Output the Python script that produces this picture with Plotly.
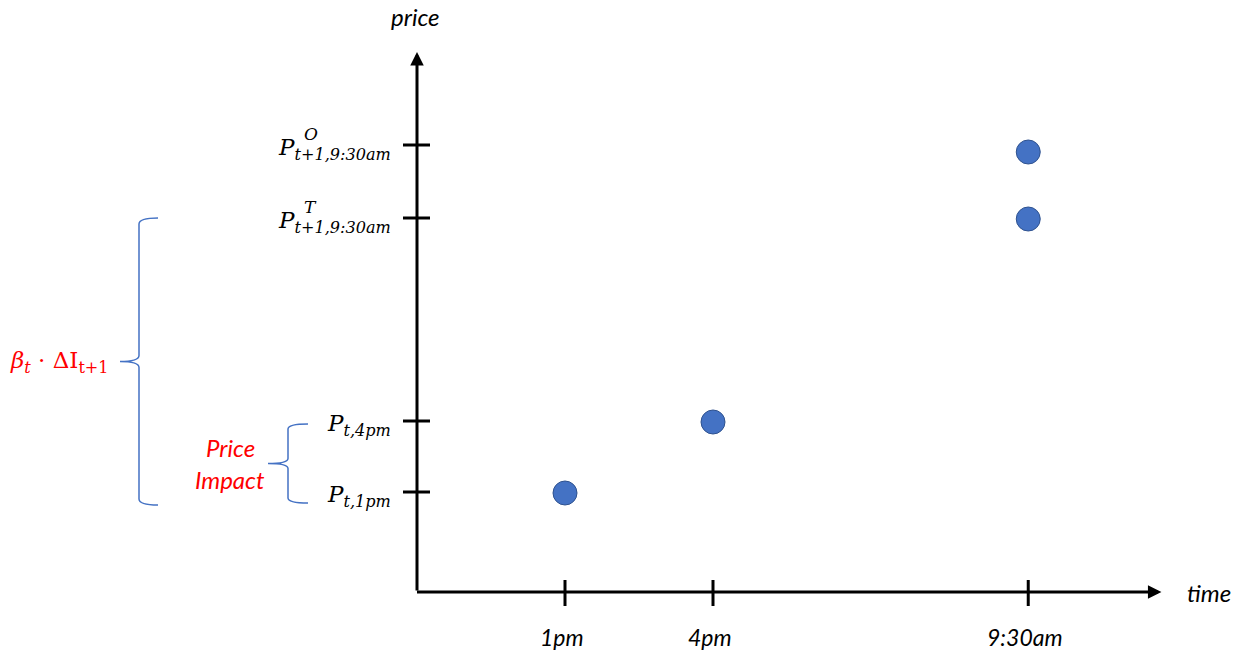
import plotly.graph_objects as go

# ---------------- data ----------------
time_labels = ["1pm", "4pm", "9:30am"]
time_pos = [1.0, 2.0, 4.13]

price_levels = [1.00, 1.71, 3.74, 4.47]
price_sub = ["t,1pm", "t,4pm", "t+1,9:30am", "t+1,9:30am"]
price_sup = ["", "", "T", "O"]

point_x = [1.0, 2.0, 4.13, 4.13]
point_y = [0.99, 1.70, 3.73, 4.40]

x_axis_end = 5.03
y_axis_end = 5.40

# ---------------- layout helpers ----------------
W, H = 1244, 656
PX_X, PX_Y = 148.0, 100.0      # pixels per data unit
X0, Y0 = 417.0, 592.0          # pixel position of origin


def dx(px):  # pixel offset -> data x offset
    return px / PX_X


def dy(px):
    return px / PX_Y


BLUE = "#4472C4"
RED = "#FF0000"
MATH_FONT = "DejaVu Serif"
TEXT_FONT = "Lato"

fig = go.Figure()

fig.add_trace(go.Scatter(
    x=point_x, y=point_y, mode="markers",
    marker=dict(size=24, color=BLUE, line=dict(color="#2F528F", width=1)),
    hoverinfo="skip", showlegend=False,
))

shapes = []
annotations = []

# axes with arrows
annotations.append(dict(x=0, y=y_axis_end, ax=0, ay=0, xref="x", yref="y", axref="x", ayref="y",
                        text="", showarrow=True, arrowhead=2, arrowsize=0.9, arrowwidth=3,
                        arrowcolor="black", standoff=0, startstandoff=0))
annotations.append(dict(x=x_axis_end, y=0, ax=-dx(1.5), ay=0, xref="x", yref="y", axref="x", ayref="y",
                        text="", showarrow=True, arrowhead=2, arrowsize=0.9, arrowwidth=3,
                        arrowcolor="black", standoff=0, startstandoff=0))

# axis titles
annotations.append(dict(x=0, y=y_axis_end, xref="x", yref="y", yshift=36, xshift=-2,
                        text="<i>price</i>", showarrow=False,
                        font=dict(family=TEXT_FONT, size=24, color="black")))
annotations.append(dict(x=x_axis_end, y=0, xref="x", yref="y", xshift=48, yshift=0,
                        text="<i>time</i>", showarrow=False,
                        font=dict(family=TEXT_FONT, size=24, color="black")))

# x ticks + labels
for xp, lab in zip(time_pos, time_labels):
    shapes.append(dict(type="line", xref="x", yref="y", x0=xp, x1=xp, y0=dy(-14), y1=dy(12),
                       line=dict(color="black", width=3)))
    annotations.append(dict(x=xp, y=0, xref="x", yref="y", yshift=-45, xshift=-3,
                            text=f"<i>{lab}</i>", showarrow=False,
                            font=dict(family=TEXT_FONT, size=23, color="black")))

# y ticks + labels
for lvl, sub, sup in zip(price_levels, price_sub, price_sup):
    shapes.append(dict(type="line", xref="x", yref="y", x0=dx(-14), x1=dx(13), y0=lvl, y1=lvl,
                       line=dict(color="black", width=3)))
    annotations.append(dict(x=0, y=lvl, xref="x", yref="y", xanchor="right", yanchor="middle",
                            xshift=-24, yshift=-4,
                            text=f"<i>P<sub>{sub}</sub></i>", showarrow=False,
                            font=dict(family=MATH_FONT, size=23, color="black")))
    if sup:
        annotations.append(dict(x=0, y=lvl, xref="x", yref="y", xanchor="left", yanchor="middle",
                                xshift=-115, yshift=11,
                                text=f"<i>{sup}</i>", showarrow=False,
                                font=dict(family=MATH_FONT, size=17, color="black")))


def brace(x_v, x_end, x_tip, y_top, y_bot, rx, ry):
    y_mid = (y_top + y_bot) / 2
    return (f"M{x_end},{y_top} Q{x_v},{y_top} {x_v},{y_top - ry} "
            f"L{x_v},{y_mid + ry} Q{x_v},{y_mid} {x_tip},{y_mid} "
            f"M{x_tip},{y_mid} Q{x_v},{y_mid} {x_v},{y_mid - ry} "
            f"L{x_v},{y_bot + ry} Q{x_v},{y_bot} {x_end},{y_bot}")


# big brace: from P^T level to below the 1pm level
big_top, big_bot = price_levels[2], price_levels[0] - dy(13)
shapes.append(dict(type="path", xref="x", yref="y",
                   path=brace(dx(139 - X0), dx(158 - X0), dx(120 - X0), big_top, big_bot, dx(6), dy(6)),
                   line=dict(color=BLUE, width=1.5)))
# small brace: from 4pm level to below the 1pm level
sm_top, sm_bot = price_levels[1] - dy(3), price_levels[0] - dy(11)
shapes.append(dict(type="path", xref="x", yref="y",
                   path=brace(dx(288 - X0), dx(308 - X0), dx(268 - X0), sm_top, sm_bot, dx(5), dy(5)),
                   line=dict(color=BLUE, width=1.5)))

# red labels
annotations.append(dict(x=dx(59 - X0), y=(big_top + big_bot) / 2, xref="x", yref="y",
                        text="<i>β<sub>t</sub></i> · ΔI<sub>t+1</sub>", showarrow=False,
                        font=dict(family=MATH_FONT, size=23, color=RED)))
sm_mid = (sm_top + sm_bot) / 2
annotations.append(dict(x=dx(230 - X0), y=sm_mid, xref="x", yref="y", yshift=16,
                        text="<i>Price</i>", showarrow=False,
                        font=dict(family=TEXT_FONT, size=24, color=RED)))
annotations.append(dict(x=dx(230 - X0), y=sm_mid, xref="x", yref="y", yshift=-16,
                        text="<i>Impact</i>", showarrow=False,
                        font=dict(family=TEXT_FONT, size=24, color=RED)))

fig.update_layout(
    width=W, height=H,
    margin=dict(l=0, r=0, t=0, b=0),
    paper_bgcolor="white", plot_bgcolor="white",
    xaxis=dict(range=[dx(-X0), dx(W - X0)], visible=False, fixedrange=True),
    yaxis=dict(range=[dy(Y0 - H), dy(Y0)], visible=False, fixedrange=True),
    shapes=shapes, annotations=annotations,
    showlegend=False,
)

fig.write_html("out.html", config={"displayModeBar": False},
               post_script="document.body.style.margin='0';document.body.style.overflow='hidden';")
